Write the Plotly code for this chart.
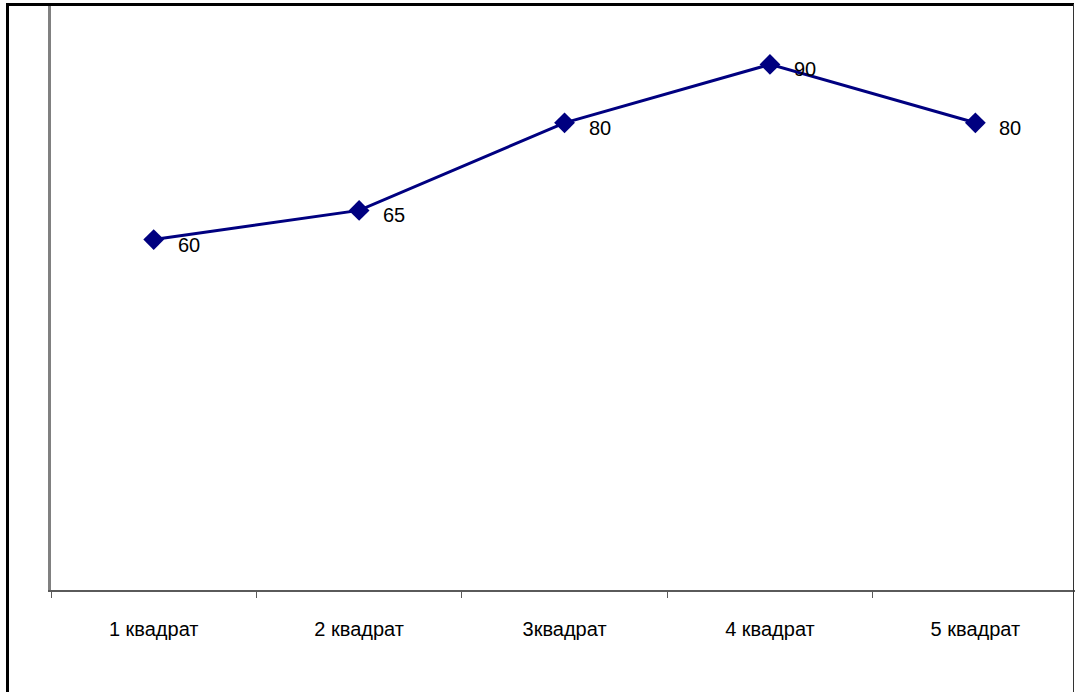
import plotly.graph_objects as go

categories = ["1 квадрат", "2 квадрат", "3квадрат", "4 квадрат", "5 квадрат"]
values = [60, 65, 80, 90, 80]

W, H = 1075, 692
L, R, T, B = 51, 0, 6, 102
pw, ph = W - L - R, H - T - B

def px_x(x):
    return (x - L) / pw

def px_y(y):
    return (H - B - y) / ph

fig = go.Figure()
fig.add_trace(go.Scatter(
    x=categories, y=values, mode="lines+markers",
    line=dict(color="#000080", width=3),
    marker=dict(symbol="diamond", size=16, color="#000080"),
    hoverinfo="skip", showlegend=False, cliponaxis=False,
))

for c, v in zip(categories, values):
    fig.add_annotation(x=c, y=v, text=str(v), showarrow=False,
                       xanchor="left", yanchor="middle", xshift=22, yshift=-5,
                       font=dict(family="Liberation Sans, Arial", size=20, color="black"))

shapes = [
    dict(type="line", xref="paper", yref="paper", x0=px_x(7.5), x1=px_x(7.5), y0=px_y(4), y1=px_y(700),
         line=dict(color="black", width=3)),
    dict(type="line", xref="paper", yref="paper", x0=px_x(6), x1=px_x(1074), y0=px_y(4.5), y1=px_y(4.5),
         line=dict(color="black", width=3)),
    dict(type="line", xref="paper", yref="paper", x0=px_x(1073.5), x1=px_x(1073.5), y0=px_y(4), y1=px_y(700),
         line=dict(color="#333333", width=1)),
]

fig.update_layout(
    width=W, height=H,
    margin=dict(l=L, r=R, t=T, b=B, pad=0),
    paper_bgcolor="white", plot_bgcolor="white",
    font=dict(family="Liberation Sans, Arial", size=20, color="black"),
    shapes=shapes,
    xaxis=dict(type="category", range=[-0.5, 4.485], showline=True, linecolor="#5a5a5a", linewidth=2,
               ticks="outside", tickson="boundaries", ticklen=6, tickcolor="#5a5a5a", tickwidth=1,
               showgrid=False, zeroline=False, ticklabelstandoff=20,
               tickfont=dict(family="Liberation Sans, Arial", size=20, color="black")),
    yaxis=dict(range=[0, 100], showline=True, linecolor="#808080", linewidth=3,
               showticklabels=False, ticks="", showgrid=False, zeroline=False),
)

fig.write_html("out.html")
